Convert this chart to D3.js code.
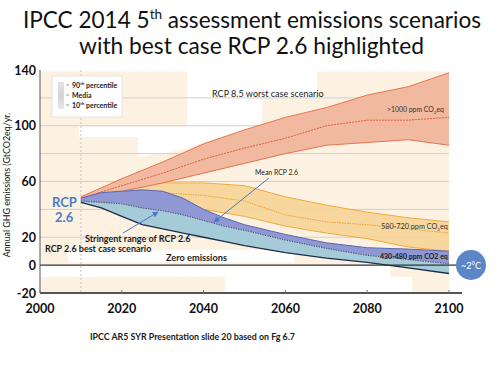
<!DOCTYPE html>
<html>
<head>
<meta charset="utf-8">
<script src="https://cdn.jsdelivr.net/npm/d3@7"></script>
<style>
  body { margin: 0; background: #fff; }
  svg { display: block; font-family: Lato, "Open Sans", sans-serif; }
</style>
</head>
<body>
<div id="chart"></div>
<script>
// ---- data (GtCO2eq/yr) ----
var rcp85Years  = [2010, 2020, 2030, 2040, 2050, 2060, 2070, 2080, 2090, 2100];
var rcp85Upper  = [49, 62, 74, 87, 97, 106, 113, 122, 128, 138];
var rcp85Median = [48, 57, 66, 76, 84, 91, 100, 104, 104, 106];
var rcp85Lower  = [47, 53, 59, 66, 73, 80, 86, 88, 90, 86];

var midYears  = [2010, 2020, 2030, 2040, 2050, 2060, 2070, 2080, 2090, 2100];
var midUpper  = [47, 55, 59, 59, 57, 49, 43, 38, 34, 31];
var midMedian = [46, 50, 52, 50, 46, 36, 31, 29, 26, 23];
var midLower  = [45, 45, 44, 40, 35, 28, 23, 19, 13, 10];

var rcp26Years  = [2010, 2015, 2020, 2025, 2030, 2035, 2040, 2045, 2050, 2060, 2070, 2080, 2090, 2100];
var rcp26Upper  = [48, 52, 53, 54, 53, 48, 40, 34, 29, 22, 16, 12.5, 11.5, 10];
var rcp26Mid    = [46, 45, 44, 41, 39, 36, 32, 28, 25, 18, 12, 7, 4, 1];
var rcp26Lower  = [45, 41, 35, 29, 26, 23, 20, 17, 14, 9, 5, 2, -2, -6];

var yTicks = [140, 100, 60, 20, 0, -20];
var yGrid = [120, 100, 80, 60, 40, 20];
var xTicks = [2000, 2020, 2040, 2060, 2080, 2100];
var legendLabels = [['90', 'th percentile'], ['Media', ''], ['10', 'th percentile']];

// collage background pieces (year / value units)
var peachRects = [
    {x0: 2000, x1: 2100, y0: 0, y1: 139},
    {x0: 2000, x1: 2045.2, y0: -20, y1: -8.5},
    {x0: 2085.6, x1: 2100, y0: -8.5, y1: 2},
    {x0: 2091, x1: 2100, y0: -20, y1: -8.5}
];
var whiteRects = [
    {x0: 2036, x1: 2067.7, y0: 120, y1: 141},
    {x0: 2006.8, x1: 2062.3, y0: 2, y1: 11}
];
var whitePoly = [[2009.5, 99.5], [2036, 99.5], [2036, 120], [2054.3, 120], [2054.3, 101],
    [2045, 93], [2036, 84], [2030, 80], [2024, 78], [2024, 92], [2009.5, 92]];

var W = 500, H = 375;
var svg = d3.select('#chart').append('svg').attr('width', W).attr('height', H);
var defs = svg.append('defs');

var x = d3.scaleLinear().domain([2000, 2100]).range([40, 449]);
var y = d3.scaleLinear().domain([-20, 140]).range([293, 70]);

function fitWidth(sel, w) {
    var bw = sel.node().getBBox().width;
    var fs = parseFloat(sel.attr('font-size'));
    sel.attr('font-size', fs * w / bw);
    sel.selectAll('tspan.sup').attr('font-size', fs * w / bw * 0.6);
}

// ---- title ----
var t1 = svg.append('text').attr('x', 252).attr('y', 28).attr('text-anchor', 'middle')
    .attr('font-size', 24).attr('fill', '#111');
t1.append('tspan').text('IPCC 2014 5');
t1.append('tspan').attr('class', 'sup').attr('dy', -9).attr('font-size', 14).text('th');
t1.append('tspan').attr('dy', 9).text(' assessment emissions scenarios');
fitWidth(t1, 458);
var t2 = svg.append('text').attr('x', 251.5).attr('y', 54).attr('text-anchor', 'middle')
    .attr('font-size', 24).attr('fill', '#111').text('with best case RCP 2.6 highlighted');
fitWidth(t2, 345);

// ---- background collage ----
var bg = svg.append('g');
bg.selectAll('rect.peach').data(peachRects).enter().append('rect')
    .attr('x', d => x(d.x0)).attr('width', d => x(d.x1) - x(d.x0))
    .attr('y', d => y(d.y1)).attr('height', d => y(d.y0) - y(d.y1))
    .attr('fill', '#fdf2e2');
bg.append('path').attr('d', d3.line().x(d => x(d[0])).y(d => y(d[1]))(whitePoly) + 'Z').attr('fill', '#fff');
bg.selectAll('rect.white').data(whiteRects).enter().append('rect')
    .attr('x', d => x(d.x0)).attr('width', d => x(d.x1) - x(d.x0))
    .attr('y', d => y(d.y1)).attr('height', d => y(d.y0) - y(d.y1))
    .attr('fill', '#fff');

// gridlines
svg.append('g').selectAll('line').data(yGrid).enter().append('line')
    .attr('x1', x(2000)).attr('x2', x(2100))
    .attr('y1', d => y(d)).attr('y2', d => y(d))
    .attr('stroke', '#cfcfd2').attr('stroke-width', 1);
svg.append('line').attr('x1', x(2010)).attr('x2', x(2010)).attr('y1', y(140)).attr('y2', y(-20))
    .attr('stroke', '#c4c4c4').attr('stroke-dasharray', '2,2');

// ---- bands ----
function band(years, lo, hi) {
    return d3.area().x((d, i) => x(years[i])).y0((d, i) => y(lo[i])).y1((d, i) => y(hi[i]))(years);
}
function lineOf(years, vals) {
    return d3.line().x((d, i) => x(years[i])).y((d, i) => y(vals[i]))(years);
}
var g = svg.append('g');

// 580-720 ppm
g.append('path').attr('d', band(midYears, midLower, midUpper)).attr('fill', '#f7d497').attr('opacity', 0.9);
g.append('path').attr('d', lineOf(midYears, midUpper)).attr('fill', 'none').attr('stroke', '#f2a93b').attr('stroke-width', 1);
g.append('path').attr('d', lineOf(midYears, midLower)).attr('fill', 'none').attr('stroke', '#f2a93b').attr('stroke-width', 1);
g.append('path').attr('d', lineOf(midYears, midMedian)).attr('fill', 'none').attr('stroke', '#f0a030')
    .attr('stroke-width', 1).attr('stroke-dasharray', '1.5,1');

// RCP 8.5
g.append('path').attr('d', band(rcp85Years, rcp85Lower, rcp85Upper)).attr('fill', '#f2b9a1');
g.append('path').attr('d', lineOf(rcp85Years, rcp85Upper)).attr('fill', 'none').attr('stroke', '#e8734e').attr('stroke-width', 1);
g.append('path').attr('d', lineOf(rcp85Years, rcp85Lower)).attr('fill', 'none').attr('stroke', '#e8734e').attr('stroke-width', 1);
g.append('path').attr('d', lineOf(rcp85Years, rcp85Median)).attr('fill', 'none').attr('stroke', '#e0603a')
    .attr('stroke-width', 1).attr('stroke-dasharray', '2,1');

// RCP 2.6
g.append('path').attr('d', band(rcp26Years, rcp26Mid, rcp26Upper)).attr('fill', '#8f98d3');
g.append('path').attr('d', band(rcp26Years, rcp26Lower, rcp26Mid)).attr('fill', '#a6cbd8');
g.append('path').attr('d', lineOf(rcp26Years, rcp26Upper)).attr('fill', 'none').attr('stroke', '#5a66b5').attr('stroke-width', 1);
g.append('path').attr('d', lineOf(rcp26Years, rcp26Mid)).attr('fill', 'none').attr('stroke', '#3b3f6e')
    .attr('stroke-width', 0.9).attr('stroke-dasharray', '1.5,1');
g.append('path').attr('d', lineOf(rcp26Years, rcp26Lower)).attr('fill', 'none').attr('stroke', '#1d2d48').attr('stroke-width', 1.3);

// ---- axes ----
svg.append('line').attr('x1', x(2000)).attr('x2', x(2103)).attr('y1', y(0)).attr('y2', y(0))
    .attr('stroke', '#333').attr('stroke-width', 1.3);
svg.append('line').attr('x1', x(2000)).attr('x2', x(2103.2)).attr('y1', y(-20)).attr('y2', y(-20))
    .attr('stroke', '#555').attr('stroke-width', 2);
svg.append('line').attr('x1', x(2000)).attr('x2', x(2000)).attr('y1', y(140)).attr('y2', y(-20))
    .attr('stroke', '#555').attr('stroke-width', 1);
svg.append('g').selectAll('line').data(xTicks).enter().append('line')
    .attr('x1', d => x(d)).attr('x2', d => x(d)).attr('y1', y(-20)).attr('y2', y(-20) - 3)
    .attr('stroke', '#777');

svg.append('g').selectAll('text').data(yTicks).enter().append('text')
    .attr('x', 36).attr('y', d => y(d) + 4.5).attr('text-anchor', 'end')
    .attr('font-size', 12.5).attr('font-weight', 'bold').attr('fill', '#111').text(d => d);
svg.append('g').selectAll('text').data(xTicks).enter().append('text')
    .attr('x', d => x(d)).attr('y', 313).attr('text-anchor', 'middle')
    .attr('font-size', 12.5).attr('font-weight', 'bold').attr('fill', '#111').text(d => d);

var yt = svg.append('text').attr('transform', 'translate(10,185) rotate(-90)').attr('text-anchor', 'middle')
    .attr('font-size', 9).attr('fill', '#111').text('Annual GHG emissions (GtCO2eq/yr.');
fitWidth(yt, 145);

// ---- legend ----
var lg = svg.append('g');
lg.append('rect').attr('x', 52).attr('y', 76).attr('width', 70).attr('height', 41)
    .attr('fill', '#fff').attr('stroke', '#e4e4e4');
var grad = defs.append('linearGradient').attr('id', 'lgGrad').attr('x1', 0).attr('x2', 0).attr('y1', 0).attr('y2', 1);
grad.append('stop').attr('offset', 0).attr('stop-color', '#e2e2e2');
grad.append('stop').attr('offset', 0.5).attr('stop-color', '#d4d4d4');
grad.append('stop').attr('offset', 1).attr('stop-color', '#e6e6e6');
lg.append('rect').attr('x', 58).attr('y', 82).attr('width', 6).attr('height', 27).attr('fill', 'url(#lgGrad)');
legendLabels.forEach(function (l, i) {
    var ly = 85 + i * 10;
    lg.append('line').attr('x1', 66).attr('x2', 69).attr('y1', ly).attr('y2', ly).attr('stroke', '#999');
    var t = lg.append('text').attr('x', 72).attr('y', ly + 2.5).attr('font-size', 7).attr('font-weight', 'bold').attr('fill', '#222');
    t.append('tspan').text(l[0]);
    if (l[1]) {
        t.append('tspan').attr('dy', -3).attr('font-size', 4.5).text(l[1].slice(0, 2));
        t.append('tspan').attr('dy', 3).text(l[1].slice(2));
    }
});

// ---- annotations ----
defs.append('marker').attr('id', 'arr').attr('viewBox', '0 0 10 10').attr('refX', 9).attr('refY', 5)
    .attr('markerWidth', 6).attr('markerHeight', 6).attr('orient', 'auto')
    .append('path').attr('d', 'M0,0L10,5L0,10Z').attr('fill', '#4a78c4');

function label(txt, xx, yy, fs, opts) {
    opts = opts || {};
    return svg.append('text').attr('x', xx).attr('y', yy).attr('font-size', fs)
        .attr('font-weight', opts.bold ? 'bold' : 'normal').attr('fill', opts.fill || '#1a1a1a')
        .attr('text-anchor', opts.anchor || 'start').text(txt);
}
var a1 = label('RCP 8.5 worst case scenario', 212, 97, 10); fitWidth(a1, 112);
var a2 = svg.append('text').attr('x', 387).attr('y', 112).attr('font-size', 7).attr('fill', '#333');
a2.append('tspan').text('>1000 ppm CO');
a2.append('tspan').attr('dy', 1.5).attr('font-size', 4.5).text('2');
a2.append('tspan').attr('dy', -1.5).text('eq');
fitWidth(a2, 57);
var a3 = label('Mean RCP 2.6', 255, 175, 7, {fill: '#222'}); fitWidth(a3, 43);
svg.append('line').attr('x1', 269).attr('y1', 178).attr('x2', 214).attr('y2', 222)
    .attr('stroke', '#4a78c4').attr('stroke-width', 1).attr('marker-end', 'url(#arr)');
var a4 = svg.append('text').attr('x', 381).attr('y', 229).attr('font-size', 7).attr('fill', '#333');
a4.append('tspan').text('580-720 ppm CO');
a4.append('tspan').attr('dy', 1.5).attr('font-size', 4.5).text('2');
a4.append('tspan').attr('dy', -1.5).text('eq');
fitWidth(a4, 67);
var a5 = label('430-480  ppm CO2 eq', 380, 259, 7.5, {bold: true, fill: '#222'}); fitWidth(a5, 68);

label('RCP', 52, 207, 13, {bold: true, fill: '#4a7cc8'});
label('2.6', 55, 222, 13, {bold: true, fill: '#4a7cc8'});
var a6 = label('Stringent range of RCP 2.6', 85, 241.5, 9.5, {bold: true}); fitWidth(a6, 106);
svg.append('line').attr('x1', 123).attr('y1', 233).attr('x2', 158).attr('y2', 212)
    .attr('stroke', '#4a78c4').attr('stroke-width', 1).attr('marker-end', 'url(#arr)');
var a7 = label('RCP 2.6 best case scenario', 45, 251.5, 9.5, {bold: true}); fitWidth(a7, 107);
var a8 = label('Zero emissions', 166, 260.5, 9.5, {bold: true}); fitWidth(a8, 61);

// ~2°C badge
svg.append('circle').attr('cx', 471).attr('cy', 265).attr('r', 15).attr('fill', '#5b87c9');
label('~2°C', 471, 268.5, 9, {anchor: 'middle', fill: '#fff'});

var src = label('IPCC AR5 SYR Presentation slide 20 based on Fg 6.7', 90, 339.5, 8.5, {bold: true});
fitWidth(src, 205);
</script>
</body>
</html>
